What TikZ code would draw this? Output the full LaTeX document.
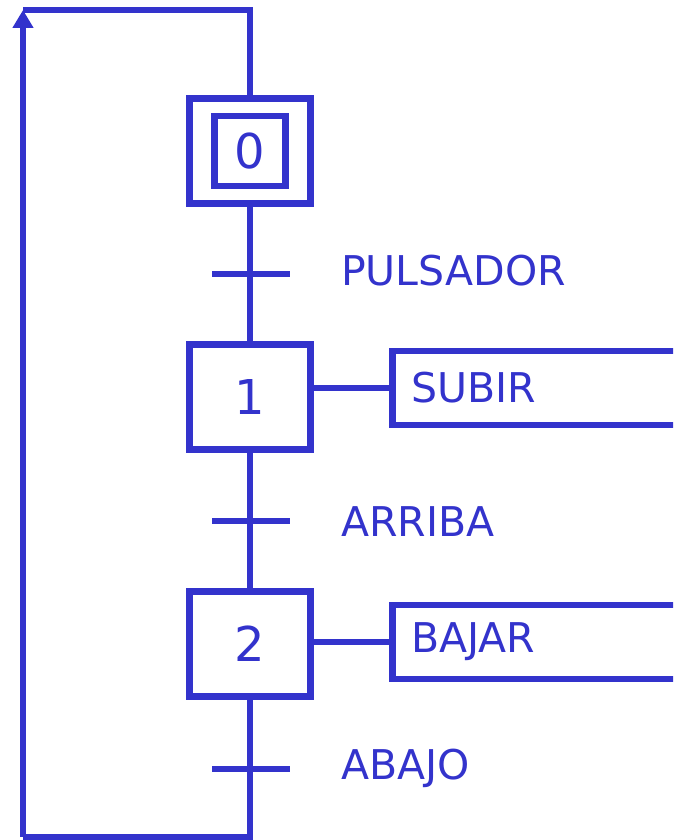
\documentclass[tikz,border=0pt]{standalone}
\usepackage{fontspec}
\setmainfont{DejaVu Sans}
\usepackage{tikz}
\usetikzlibrary{arrows.meta,positioning}

\definecolor{grafblue}{RGB}{51,51,204}

\begin{document}
\begin{tikzpicture}[x=1pt,y=-1pt,line width=6.5pt,draw=grafblue,
  every node/.style={text=grafblue,inner sep=0pt},
  stepbox/.style={draw,minimum width=121pt,minimum height=105pt,font=\fontsize{48}{50}\selectfont},
  initbox/.style={draw,minimum width=71pt,minimum height=70pt,font=\fontsize{48}{50}\selectfont},
  actbox/.style={draw,anchor=west,minimum height=74pt,text width=262pt,inner xsep=19pt,align=left,font=\fontsize{41}{43}\selectfont},
  tbar/.style={minimum width=71pt,minimum height=0pt},
  cond/.style={anchor=west,font=\fontsize{41}{43}\selectfont}]
\useasboundingbox (0,0) rectangle (673,840);
\clip (0,0) rectangle (673,840);

% steps
\node[stepbox] (s0) at (250,151) {};
\node[initbox] (s0i) at (250,151) {0};
\node[stepbox] (s1) at (250,397) {1};
\node[stepbox] (s2) at (250,644) {2};

% transitions
\node[tbar] (t1) at (251,274) {};
\node[tbar] (t2) at (251,521) {};
\node[tbar] (t3) at (251,769) {};
\node[cond] (c1) at (338,271) {PULSADOR};
\node[cond] (c2) at (338,522) {ARRIBA};
\node[cond] (c3) at (338,768) {ABAJO};

% actions
\node[actbox] (a1) at (389,388) {SUBIR};
\node[actbox] (a2) at (389,642) {BAJAR};

\coordinate (lb) at (23,837);
\coordinate (lt) at (23,10);

\draw (s0.south) -- (s1.north);
\draw (s1.south) -- (s2.north);
\draw (t1.west) -- (t1.east);
\draw (t2.west) -- (t2.east);
\draw (t3.west) -- (t3.east);
\draw (s1.east |- a1.west) -- (a1.west);
\draw (s2.east |- a2.west) -- (a2.west);

% loop back to the initial step
\draw (s2.south) |- (lb);
\draw[-{Triangle[length=18pt,width=20pt]}] (lb) -- (lt);
\draw (lt) -| (s0.north);
\end{tikzpicture}
\end{document}
